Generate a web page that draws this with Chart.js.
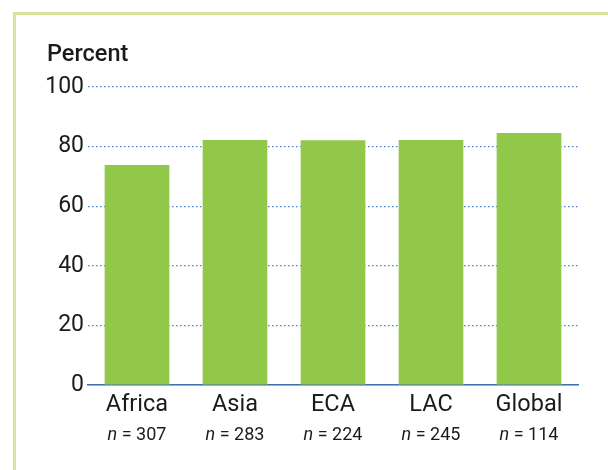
<!DOCTYPE html>
<html>
<head>
<meta charset="utf-8">
<script src="https://cdn.jsdelivr.net/npm/chart.js@4/dist/chart.umd.min.js"></script>
<style>
  html, body { margin: 0; padding: 0; background: #fff; }
  #wrap { position: relative; width: 608px; height: 470px; overflow: hidden; }
  #frame {
    position: absolute; left: 13px; top: 12px; width: 620px; height: 480px;
    border-left: 3px solid #d6e59b; border-top: 3px solid #d6e59b;
  }
  #chart { position: absolute; left: 0; top: 0; }
</style>
</head>
<body>
<div id="wrap">
  <div id="frame"></div>
  <canvas id="chart" width="608" height="470"></canvas>
</div>
<script>
// ——— Data ———
var regions = ["Africa", "Asia", "ECA", "LAC", "Global"];
var sampleSizes = [307, 283, 224, 245, 114];
var percentValues = [73.8, 82.2, 82.1, 82.2, 84.6];
var yTicks = [0, 20, 40, 60, 80, 100];

var FONT = "Roboto, 'Open Sans', sans-serif";
var TEXT = "#1b1b1b";

// ——— "Percent" header + n = ... line under each category ———
var extraText = {
  id: "extraText",
  afterDraw: function (chart) {
    var ctx = chart.ctx;
    var x = chart.scales.x;
    ctx.save();
    ctx.fillStyle = TEXT;
    ctx.textBaseline = "alphabetic";
    ctx.textAlign = "left";
    ctx.font = "500 23.5px " + FONT;
    ctx.fillText("Percent", 47, 61);

    sampleSizes.forEach(function (n, i) {
      var cx = x.getPixelForValue(i);
      ctx.font = "italic 18px " + FONT;
      var a = "n";
      var wa = ctx.measureText(a).width;
      ctx.font = "18px " + FONT;
      var b = " = " + n;
      var wb = ctx.measureText(b).width;
      var left = cx - (wa + wb) / 2;
      ctx.font = "italic 18px " + FONT;
      ctx.fillText(a, left, 440);
      ctx.font = "18px " + FONT;
      ctx.fillText(b, left + wa, 440);
    });
    ctx.restore();
  }
};

new Chart(document.getElementById("chart"), {
  type: "bar",
  data: {
    labels: regions,
    datasets: [{
      data: percentValues,
      backgroundColor: "#92c84a",
      borderWidth: 0,
      barPercentage: 0.66,
      categoryPercentage: 1
    }]
  },
  options: {
    responsive: false,
    animation: false,
    devicePixelRatio: 1,
    layout: { padding: { top: 87, right: 30, left: 0, bottom: 0 } },
    plugins: { legend: { display: false }, tooltip: { enabled: false } },
    scales: {
      x: {
        afterFit: function (scale) { scale.height = 85; },
        grid: { display: false, drawTicks: false },
        border: { display: true, color: "#3f70b0", width: 1.5 },
        ticks: { color: TEXT, padding: 6, font: { family: FONT, size: 23.5 } }
      },
      y: {
        min: 0,
        max: 100,
        afterFit: function (scale) { scale.width = 88; },
        afterBuildTicks: function (scale) {
          scale.ticks = yTicks.map(function (v) { return { value: v }; });
        },
        border: { display: false, dash: [1.5, 2.5] },
        grid: { color: "#4a80c4", lineWidth: 1.2, drawTicks: false },
        ticks: { color: TEXT, padding: 4, font: { family: FONT, size: 23 } }
      }
    }
  },
  plugins: [extraText]
});
</script>
</body>
</html>
